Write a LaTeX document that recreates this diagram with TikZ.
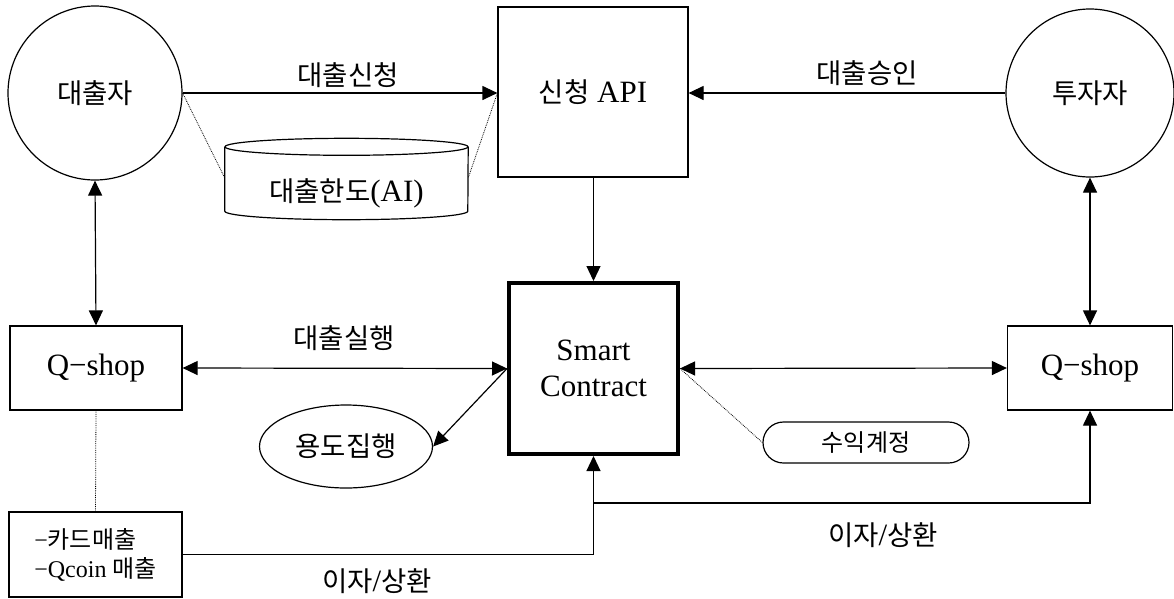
\documentclass[tikz,border=0pt]{standalone}
\usepackage{fontspec}
\setmainfont{Liberation Serif}
\newfontfamily\krfont{Noto Sans CJK KR}
\usetikzlibrary{arrows.meta,shapes.geometric,shapes.misc}

% Korean text: regular and small sizes
\newcommand\KR[1]{{\krfont\fontsize{27.5}{36}\selectfont #1}}
\newcommand\KRs[1]{{\krfont\fontsize{24}{29}\selectfont #1}}

\tikzset{
  x=1pt, y=1pt,
  every node/.style={font=\fontsize{31}{36}\selectfont, inner sep=0pt},
  conn/.style={line width=1.2pt},
  tip/.style={-{Triangle[length=15pt,width=14pt]}},
  tip2/.style={{Triangle[length=15pt,width=14pt]}-{Triangle[length=15pt,width=14pt]}},
  hint/.style={line width=0.8pt, densely dotted},
  party/.style={circle, draw, line width=1.2pt},
  box/.style={rectangle, draw, line width=1.2pt},
  lbl/.style={}
}

\begin{document}
\begin{tikzpicture}
\useasboundingbox (0,0) rectangle (1174,-598);
\fill[white] (0,0) rectangle (1174,-598);

% participants
\node[party, minimum size=174] (lender) at (95,-93) {\KR{대출자}};
\node[party, minimum size=168] (inv) at (1090,-93) {\KR{투자자}};
\node[box, minimum width=190, minimum height=170] (api) at (593,-92) {\KR{신청} API};

% loan-limit database (cylinder drawn around the text node)
\node[minimum width=243, minimum height=54] (lim) at (346.5,-193) {\KR{대출한도}(AI)};
\draw[line width=1.2pt] ([yshift=19pt]lim.north) ellipse [x radius=121.5pt, y radius=8.5pt];
\draw[line width=1.2pt] ([yshift=19pt]lim.north west) -- ([yshift=9pt]lim.south west)
  arc[start angle=180, end angle=360, x radius=121.5pt, y radius=8.5pt]
  -- ([yshift=19pt]lim.north east);

% middle row
\node[box, minimum width=172, minimum height=84] (qsL) at (96,-368) {Q−shop};
\node[box, minimum width=165, minimum height=84] (qsR) at (1090,-368) {Q−shop};
\node[rectangle, draw, line width=4pt, minimum width=169, minimum height=171, align=center]
  (sc) at (593.5,-368.5) {Smart\\Contract};
\node[ellipse, draw, line width=1.2pt, minimum width=173, minimum height=83] (yd) at (346,-446.5) {\KR{용도집행}};
\node[rounded rectangle, draw, line width=1.2pt, minimum width=206, minimum height=41] (acct) at (866,-442.5) {\KRs{수익계정}};
\node[box, minimum width=173, minimum height=85, align=left, font=\fontsize{24}{29}\selectfont]
  (sales) at (95.5,-554.5) {−\KRs{카드매출}\\−Qcoin \KRs{매출}};

% connectors
\draw[conn, tip] (lender.east) -- (lender.east -| api.west);
\draw[conn, tip] (inv.west) -- (inv.west -| api.east);
\draw[conn, tip] (api.south -| sc.north) -- (sc.north);
\draw[conn, tip2] (lender.south) -- (qsL.north);
\draw[conn, tip2] (inv.south) -- (qsR.north);
\draw[conn, tip2] (qsL.east) -- (sc.west);
\draw[conn, tip2] (sc.east) -- (qsR.west);
\draw[conn, tip] (sc.west) -- (yd.east);
\draw[conn, tip] (sales.east) -| (sc.south);
\coordinate (split) at ([yshift=-47pt]sc.south);
\draw[conn, tip] (split) -| (qsR.south);

% dotted associations
\draw[hint] (lender.east) -- ([yshift=15pt]lim.west);
\draw[hint] (lender.east -| api.west) -- ([yshift=15pt]lim.east);
\draw[hint] (sc.east) -- (acct.west);
\draw[hint] (qsL.south) -- (sales.north);

% labels
\node[lbl] at (348,-75) {\KR{대출신청}};
\node[lbl] at (867,-73) {\KR{대출승인}};
\node[lbl] at (344,-338) {\KR{대출실행}};
\node[lbl] at (883,-535) {\KR{이자}/\KR{상환}};
\node[lbl] at (377,-581) {\KR{이자}/\KR{상환}};
\end{tikzpicture}
\end{document}
